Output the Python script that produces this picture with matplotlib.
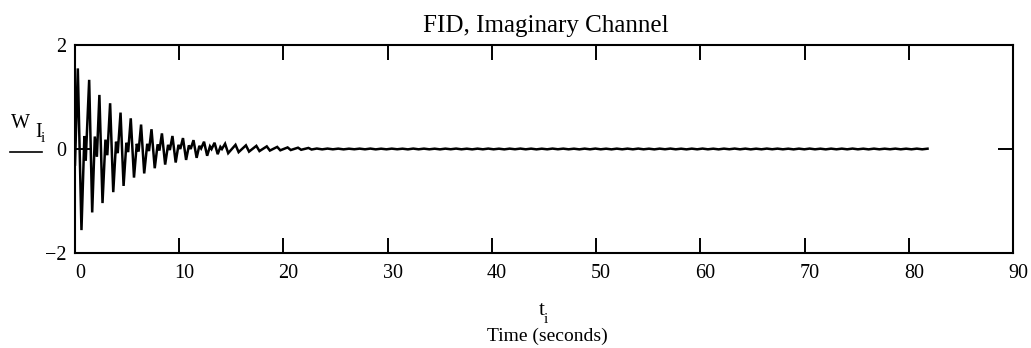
import numpy as np
import matplotlib
matplotlib.use("Agg")
import matplotlib.pyplot as plt
import matplotlib.transforms as mtransforms

# vertices of the decaying part of the signal (t in s, value)
burst_t = [0.0, 0.27, 0.62, 0.90, 1.03,
           1.36, 1.65, 1.90, 2.10,
           2.34, 2.64, 2.92, 3.10,
           3.37, 3.67, 3.94, 4.10,
           4.37, 4.66, 4.93, 5.10,
           5.35, 5.66, 5.93, 6.10,
           6.34, 6.64, 6.93, 7.10,
           7.34, 7.65, 7.93, 8.10,
           8.34, 8.65, 8.93, 9.10,
           9.35, 9.66, 9.93, 10.10,
           10.36, 10.66, 10.93, 11.10,
           11.37, 11.67, 11.93, 12.10,
           12.38, 12.68, 12.95, 13.10,
           13.39, 13.69, 13.95, 14.10,
           14.40, 14.70, 15.40, 15.70, 16.40, 16.70, 17.40, 17.70,
           18.40, 18.70, 19.40, 19.70, 20.40, 20.70, 21.40, 21.70,
           22.40, 22.70]
burst_v = [-0.30, 1.55, -1.56, 0.25, -0.22,
           1.33, -1.22, 0.24, -0.15,
           1.04, -1.04, 0.18, -0.12,
           0.88, -0.83, 0.14, -0.08,
           0.70, -0.71, 0.12, -0.06,
           0.59, -0.55, 0.10, -0.05,
           0.47, -0.47, 0.10, -0.04,
           0.38, -0.37, 0.09, -0.03,
           0.30, -0.30, 0.08, -0.02,
           0.25, -0.26, 0.08, 0.00,
           0.21, -0.21, 0.07, 0.00,
           0.17, -0.17, 0.06, 0.01,
           0.14, -0.13, 0.05, 0.00,
           0.12, -0.10, 0.04, 0.00,
           0.10, -0.08, 0.08, -0.06, 0.07, -0.05, 0.06, -0.04,
           0.05, -0.03, 0.04, -0.025, 0.03, -0.02, 0.025, -0.015,
           0.02, -0.01]

# small ripple left after the decay, up to the last sample (~81.8 s)
tail_v = [0.009, -0.007, 0.008, -0.006, 0.007, -0.007, 0.006, -0.005,
          0.007, -0.006, 0.008, -0.007, 0.006, -0.006, 0.007, -0.005,
          0.006, -0.007, 0.008, -0.006, 0.007, -0.006, 0.006, -0.007,
          0.007, -0.005, 0.008, -0.006, 0.006, -0.007, 0.007, -0.006,
          0.008, -0.006, 0.006, -0.007, 0.007, -0.005, 0.008, -0.006,
          0.007, -0.007, 0.006, -0.006, 0.008, -0.005, 0.007, -0.006,
          0.006, -0.007, 0.007, -0.006, 0.008, -0.006, 0.006, -0.007,
          0.007, -0.006, 0.007, -0.006, 0.008, -0.006, 0.006, -0.007,
          0.007, -0.005, 0.008, -0.006, 0.006, -0.007, 0.007, -0.006,
          0.008, -0.006, 0.006, -0.007, 0.007, -0.005, 0.008, -0.006,
          0.007, -0.007, 0.006, -0.006, 0.008, -0.005, 0.007, -0.006,
          0.006, -0.007, 0.007, -0.006, 0.008, -0.006, 0.006, -0.007,
          0.007, -0.006, 0.007, -0.006, 0.008, -0.006, 0.006, -0.007,
          0.007, -0.006, 0.006, -0.005, 0.007, -0.006, 0.006, -0.006,
          0.007, -0.006, 0.006]
tail_t = np.linspace(23.2, 81.8, len(tail_v))

x_ticks = list(range(0, 100, 10))
y_ticks = [-2, 0, 2]
y_labels = ["\u22122", "0", "2"]

W, H = 1031, 348
plt.rcParams["font.family"] = ["Liberation Serif", "DejaVu Serif"]

fig = plt.figure(figsize=(W / 100, H / 100), dpi=100)
ax = fig.add_axes([75 / W, 1 - 253 / H, (1013 - 75) / W, (253 - 45) / H])

t = np.concatenate([burst_t, tail_t])
v = np.concatenate([burst_v, tail_v])
ax.plot(t, v, color="black", lw=1.8, solid_joinstyle="miter")

ax.set_xlim(0, 90)
ax.set_ylim(-2, 2)
ax.set_xticks(x_ticks)
ax.set_yticks(y_ticks)
ax.set_yticklabels(y_labels)
ax.tick_params(direction="in", length=11, width=1.4, top=True, right=True,
               labelsize=14.5, colors="black")
ax.tick_params(axis="x", pad=8)
ax.tick_params(axis="y", pad=6)
for s in ax.spines.values():
    s.set_linewidth(1.5)

# mathcad puts the x labels a bit to the right of the ticks
shift = mtransforms.ScaledTranslation(5 / 100, 0, fig.dpi_scale_trans)
for lab in ax.get_xticklabels():
    lab.set_transform(lab.get_transform() + shift)


def px(x, y):
    return x / W, 1 - y / H


fig.text(*px(546, 32), "FID, Imaginary Channel", ha="center", va="baseline", fontsize=18)

# y label  W_{I_i} over a short rule
fig.text(*px(11, 128), "W", ha="left", va="baseline", fontsize=14.5)
fig.text(*px(35, 137), "I", ha="left", va="baseline", fontsize=14.5)
fig.text(*px(41, 142), "i", ha="left", va="baseline", fontsize=11)
fig.add_artist(plt.Line2D([10 / W, 42 / W], [1 - 152 / H, 1 - 152 / H],
                          color="black", lw=1.2))

# x label
fig.text(*px(539, 315), "t", ha="left", va="baseline", fontsize=15)
fig.text(*px(544, 323), "i", ha="left", va="baseline", fontsize=11)
fig.text(*px(547, 341), "Time (seconds)", ha="center", va="baseline", fontsize=14)

fig.savefig("out.png", dpi=100)
